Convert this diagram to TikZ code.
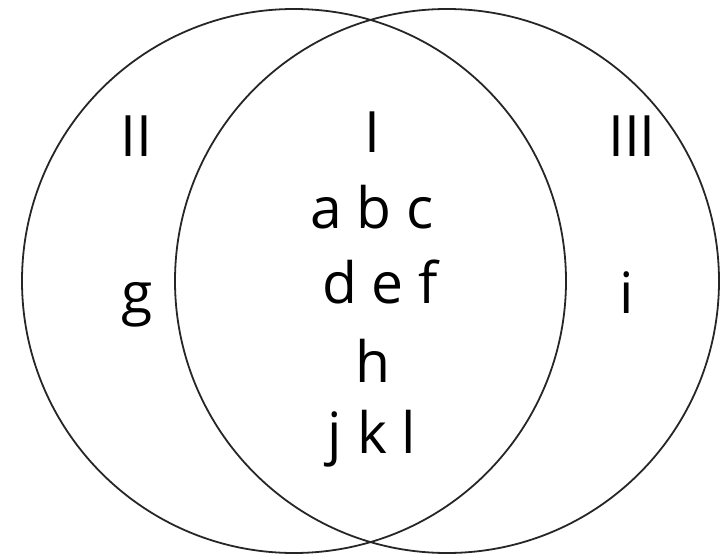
\documentclass[tikz,border=0pt]{standalone}
\usepackage{fontspec}
\setmainfont{Open Sans}
\begin{document}
\begin{tikzpicture}[x=1pt,y=-1pt,
  setcircle/.style={line width=1.8pt, draw=black!85},
  lbl/.style={font=\fontsize{57}{57}\selectfont, anchor=base, inner sep=0pt}]
\useasboundingbox (0,0) rectangle (721,554);
\draw[setcircle] (294,281) circle[radius=272pt];
\draw[setcircle] (447,281) circle[radius=272pt];
\node[lbl] (nII) at (136,156) {II};
\node[lbl] (nIII) at (632,156) {III};
\node[lbl] (nI) at (372,152) {I};
\node[lbl] (abc) at (372,228) {a b c};
\node[lbl] (def) at (380,303) {d e f};
\node[lbl] (h) at (373,382) {h};
\node[lbl] (jkl) at (372,453) {j k l};
\node[lbl] (g) at (137,313) {g};
\node[lbl] (i) at (627,313) {i};
\end{tikzpicture}
\end{document}
